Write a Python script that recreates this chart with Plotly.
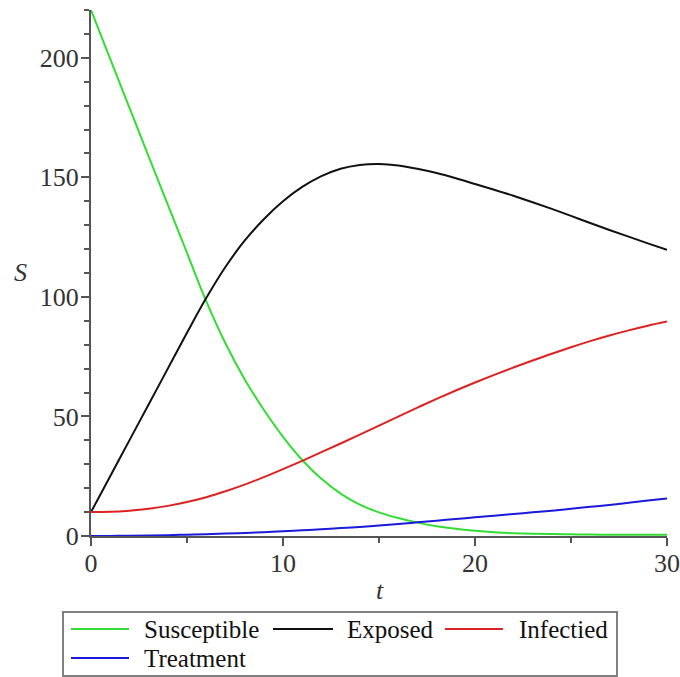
import plotly.graph_objects as go

t = list(range(0, 31))
susceptible = [220, 199.6, 179.2, 158.8, 138.6, 118.4, 98.2, 80.6, 65.6, 52.8, 41.5,
               31.8, 23.9, 17.7, 13.1, 9.9, 7.5, 5.6, 4.1, 3.0, 2.2,
               1.6, 1.2, 0.95, 0.8, 0.7, 0.6, 0.55, 0.5, 0.5, 0.5]
exposed = [10, 25, 40, 55, 70, 85, 99.5, 112.5, 123.5, 132.5, 140,
           146, 150.5, 153.6, 155.2, 155.6, 155, 153.6, 151.8, 149.6, 147.2,
           144.8, 142.3, 139.6, 136.8, 133.9, 130.9, 128.0, 125.2, 122.4, 119.7]
infected = [10, 10.1, 10.6, 11.4, 12.6, 14.2, 16.2, 18.7, 21.5, 24.6, 27.95,
            31.45, 35.05, 38.7, 42.4, 46.15, 49.95, 53.7, 57.35, 60.85, 64.2,
            67.4, 70.45, 73.4, 76.25, 78.95, 81.5, 83.85, 86.0, 87.95, 89.7]
treatment = [0, 0.05, 0.1, 0.2, 0.35, 0.55, 0.75, 1.0, 1.3, 1.6, 2.0,
             2.4, 2.8, 3.3, 3.8, 4.4, 5.0, 5.7, 6.4, 7.1, 7.8,
             8.5, 9.2, 9.9, 10.6, 11.4, 12.2, 13.0, 13.9, 14.8, 15.7]

names = ["Susceptible", "Exposed", "Infectied", "Treatment"]
series = [susceptible, exposed, infected, treatment]
colors = ["#33dd33", "#111111", "#dd2222", "#1a1ad8"]

W, H = 680, 677
ML, MR, MT, MB = 91, 13, 10, 141
PW, PH = W - ML - MR, H - MT - MB


def px(x):
    return (x - ML) / PW


def py(y):
    return (H - MB - y) / PH


fig = go.Figure()
for name, ys, c in zip(names, series, colors):
    fig.add_trace(go.Scatter(x=t, y=ys, mode="lines", name=name, showlegend=False,
                             line=dict(color=c, width=2, shape="spline", smoothing=1)))

font_family = "Liberation Serif"
axis_common = dict(ticks="outside", ticklen=8, tickwidth=2, tickcolor="#555555",
                   showline=True, linecolor="#555555", linewidth=2,
                   showgrid=False, zeroline=False, automargin=False,
                   tickfont=dict(family=font_family, size=26, color="#333333"))

# manual legend (layout positions in pixels)
legend_items = [  # (name index, line x0, line x1, text x, row y)
    (0, 71, 129, 142, 629),
    (1, 273, 333, 345, 629),
    (2, 445, 503, 517, 629),
    (3, 71, 129, 142, 658),
]
shapes = [dict(type="rect", xref="paper", yref="paper",
               x0=px(63), x1=px(617), y0=py(612), y1=py(676),
               line=dict(color="#808080", width=2), fillcolor="white", layer="below")]
annotations = [
    dict(text="<i>t</i>", xref="paper", yref="paper", x=px(380), y=py(590),
         xanchor="center", yanchor="middle",
         showarrow=False, font=dict(family=font_family, size=26, color="#333333")),
    dict(text="<i>S</i>", xref="paper", yref="paper", x=px(20), y=py(272),
         xanchor="center", yanchor="middle",
         showarrow=False, font=dict(family=font_family, size=26, color="#333333")),
]
for i, lx0, lx1, tx, ry in legend_items:
    shapes.append(dict(type="line", xref="paper", yref="paper",
                       x0=px(lx0), x1=px(lx1), y0=py(ry), y1=py(ry),
                       line=dict(color=colors[i], width=2)))
    annotations.append(dict(text=names[i], xref="paper", yref="paper",
                            x=px(tx), y=py(ry), xanchor="left", yanchor="middle",
                            showarrow=False,
                            font=dict(family=font_family, size=25, color="#111111")))

fig.update_layout(
    width=W, height=H,
    margin=dict(l=ML, r=MR, t=MT, b=MB),
    paper_bgcolor="white", plot_bgcolor="white",
    font=dict(family=font_family, size=26, color="#333333"),
    showlegend=False,
    xaxis=dict(range=[0, 30], tickvals=[0, 10, 20, 30], ticklabelstandoff=-5,
               minor=dict(tickvals=[5, 15, 25], ticks="outside", ticklen=5,
                          tickwidth=2, tickcolor="#555555", showgrid=False),
               **axis_common),
    yaxis=dict(range=[0, 220], tickvals=[0, 50, 100, 150, 200], ticklabelstandoff=-3,
               minor=dict(dtick=10, ticks="outside", ticklen=5,
                          tickwidth=2, tickcolor="#555555", showgrid=False),
               **axis_common),
    shapes=shapes,
    annotations=annotations,
)

fig.write_html("out.html", config={"displayModeBar": False},
               post_script="document.body.style.margin='0';document.body.style.overflow='hidden';")
